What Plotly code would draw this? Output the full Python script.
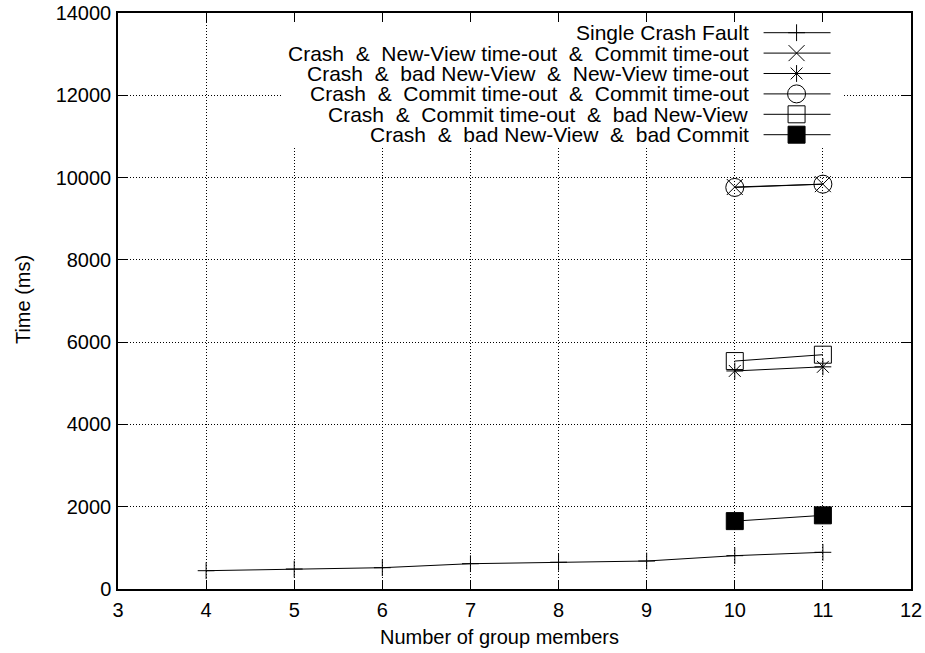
import plotly.graph_objects as go

# ---- data ----
members_single = [4, 5, 6, 7, 8, 9, 10, 11]
single_crash = [445, 486, 518, 615, 650, 680, 810, 892]

members_multi = [10, 11]
nv_timeout_commit_timeout = [9770, 9840]
bad_nv_nv_timeout = [5300, 5400]
commit_timeout_commit_timeout = [9760, 9840]
commit_timeout_bad_nv = [5540, 5695]
bad_nv_bad_commit = [1650, 1790]

series_names = [
    "Single Crash Fault",
    "Crash  &  New-View time-out  &  Commit time-out",
    "Crash  &  bad New-View  &  New-View time-out",
    "Crash  &  Commit time-out  &  Commit time-out",
    "Crash  &  Commit time-out  &  bad New-View",
    "Crash  &  bad New-View  &  bad Commit",
]
series_x = [members_single] + [members_multi] * 5
series_y = [single_crash, nv_timeout_commit_timeout, bad_nv_nv_timeout,
            commit_timeout_commit_timeout, commit_timeout_bad_nv, bad_nv_bad_commit]
symbols = ["cross-thin", "x-thin", "asterisk", "circle-open", "square-open", "square"]
sizes = [12, 16, 14, 18, 17, 17]

x_ticks = list(range(3, 13))
y_ticks = list(range(0, 14001, 2000))

FONT = "Liberation Sans, Arial, Helvetica, sans-serif"
W, H = 925, 653
L, R, T, B = 118, 911.5, 13, 589  # plot area in page pixels


def px(xp):
    return (xp - L) / (R - L)


def py(yp):
    return (B - yp) / (B - T)


fig = go.Figure()

for name, xs, ys, sym, sz in zip(series_names, series_x, series_y, symbols, sizes):
    fig.add_trace(go.Scatter(
        x=xs, y=ys, mode="lines+markers", name=name, showlegend=False,
        line=dict(color="black", width=1),
        marker=dict(symbol=sym, size=sz, color="black",
                    line=dict(color="black", width=1)),
        xaxis="x", yaxis="y",
    ))

# ---- custom gnuplot-style key on overlay axes (page pixel coordinates) ----
key_left, key_right, key_top, key_bottom = 283, 843, 20, 146
fig.add_trace(go.Scatter(
    x=[key_left, key_right, key_right, key_left, key_left],
    y=[key_top, key_top, key_bottom, key_bottom, key_top],
    fill="toself", fillcolor="white", mode="none", showlegend=False,
    hoverinfo="skip", xaxis="x2", yaxis="y2",
))
row_y = [32.7, 53.1, 73.5, 93.9, 114.3, 134.7]
for name, sym, sz, ry in zip(series_names, symbols, sizes, row_y):
    fig.add_trace(go.Scatter(
        x=[764, 831], y=[ry, ry], mode="lines", showlegend=False,
        line=dict(color="black", width=1), hoverinfo="skip",
        xaxis="x2", yaxis="y2",
    ))
    fig.add_trace(go.Scatter(
        x=[797], y=[ry], mode="markers", showlegend=False, hoverinfo="skip",
        marker=dict(symbol=sym, size=sz, color="black",
                    line=dict(color="black", width=1)),
        xaxis="x2", yaxis="y2",
    ))
    fig.add_annotation(
        x=px(751), y=py(ry), xref="paper", yref="paper",
        text=name.replace(" ", "\u00a0"),
        showarrow=False, xanchor="right", yanchor="middle",
        font=dict(family=FONT, size=21, color="black"),
    )

# axis titles
fig.add_annotation(x=px(500), y=py(637), xref="paper", yref="paper",
                   text="Number of group members", showarrow=False,
                   xanchor="center", yanchor="middle",
                   font=dict(family=FONT, size=20, color="black"))
fig.add_annotation(x=px(23), y=py(300), xref="paper", yref="paper",
                   text="Time (ms)", showarrow=False, textangle=-90,
                   xanchor="center", yanchor="middle",
                   font=dict(family=FONT, size=20, color="black"))

axis_common = dict(
    showline=True, linecolor="black", linewidth=1.5, mirror="ticks",
    ticks="inside", ticklen=9, tickcolor="black", tickwidth=1,
    showgrid=True, gridcolor="black", gridwidth=1, griddash="1px,2px",
    zeroline=False, automargin=False, ticklabeloverflow="allow",
    tickfont=dict(family=FONT, size=20, color="black"),
)

fig.update_layout(
    width=W, height=H,
    margin=dict(l=L, r=W - R, t=T, b=H - B, autoexpand=False),
    plot_bgcolor="white", paper_bgcolor="white",
    font=dict(family=FONT, size=20, color="black"),
    xaxis=dict(range=[3, 12], tickvals=x_ticks, ticktext=[str(v) for v in x_ticks],
               ticklabelstandoff=2, **axis_common),
    yaxis=dict(range=[0, 14000], tickvals=y_ticks, ticktext=[str(v) for v in y_ticks],
               ticklabelstandoff=1, **axis_common),
    xaxis2=dict(range=[L, R], overlaying="x", visible=False, fixedrange=True),
    yaxis2=dict(range=[B, T], overlaying="y", visible=False, fixedrange=True),
    showlegend=False,
)

fig.write_html(
    "out.html",
    config={"displayModeBar": False},
    post_script="document.body.style.margin='0';document.body.style.overflow='hidden';",
)
